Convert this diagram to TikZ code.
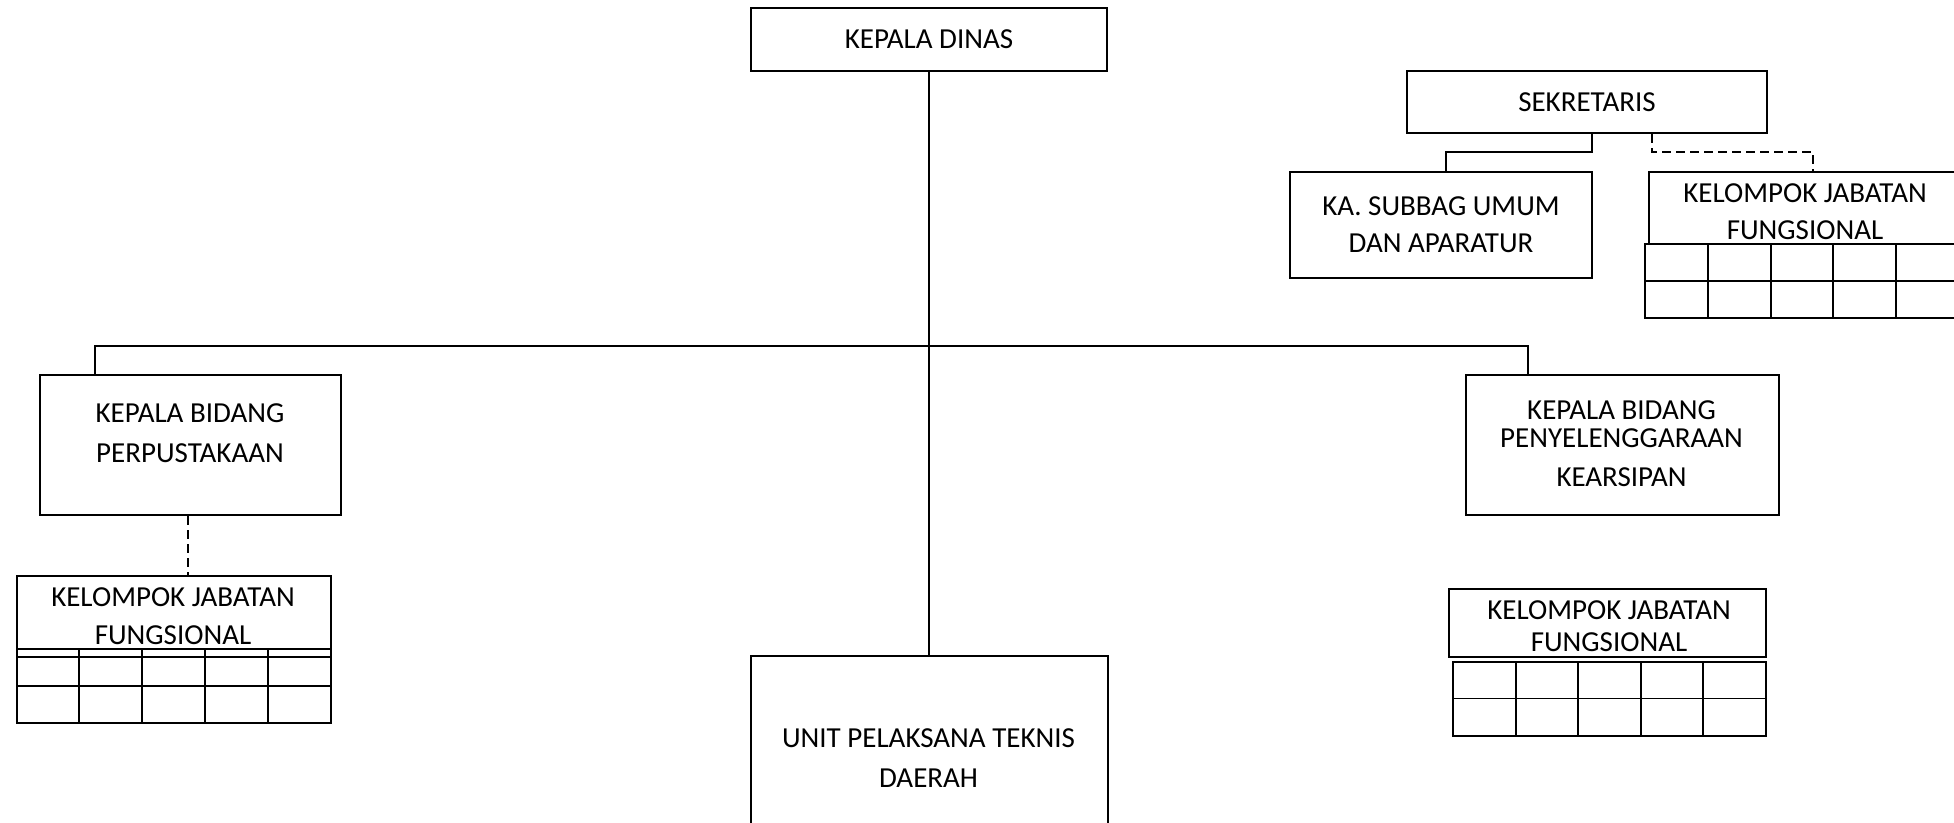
\documentclass[tikz,border=0pt]{standalone}
\usepackage{fontspec}
\setmainfont{Carlito}
\begin{document}
\begin{tikzpicture}[x=1pt,y=-1pt,
  thickbox/.style={draw,line width=2.6pt,inner sep=0pt,font=\fontsize{29}{39}\selectfont},
  thinbox/.style={draw,line width=1.5pt,inner sep=0pt},
  lbl/.style={inner sep=0pt,align=center,font=\fontsize{29}{39}\selectfont},
  conn/.style={line width=1.3pt},
  dconn/.style={line width=1.3pt,dash pattern=on 9pt off 5pt},
  tbl/.style={line width=1.4pt}]
\useasboundingbox (0,0) rectangle (1954,822);

% boxes
\node[thickbox,minimum width=356pt,minimum height=63pt] (kd) at (929,39.5) {KEPALA DINAS};
\node[thickbox,minimum width=360pt,minimum height=62pt] (sek) at (1587,102) {SEKRETARIS};
\node[thickbox,minimum width=302pt,minimum height=106pt] (sub) at (1441,225) {};
\node[thinbox,minimum width=317pt,minimum height=72pt] (kjfT) at (1807.5,208) {};
\node[thickbox,minimum width=301pt,minimum height=140pt] (kbp) at (190.5,445) {};
\node[thickbox,minimum width=313pt,minimum height=140pt] (kbpk) at (1622.5,445) {};
\node[thinbox,minimum width=314pt,minimum height=73pt] (kjfL) at (174,612.5) {};
\node[thinbox,minimum width=317pt,minimum height=68pt] (kjfR) at (1607.5,623) {};
\node[thickbox,minimum width=357pt,minimum height=214pt] (upt) at (929.5,763) {};

% texts
\node[lbl,font=\fontsize{29}{37.5}\selectfont] (subT) at (1441,224.5) {KA. SUBBAG UMUM\\DAN APARATUR};
\node[lbl,font=\fontsize{29}{37}\selectfont] (kjfTT) at (1805,211.5) {KELOMPOK JABATAN\\FUNGSIONAL};
\node[lbl,font=\fontsize{29}{40}\selectfont] (kbpT) at (190,433.5) {KEPALA BIDANG\\PERPUSTAKAAN};
\node[lbl] (kbpkT) at (1621.5,444) {KEPALA BIDANG\\[-11pt]PENYELENGGARAAN\\KEARSIPAN};
\node[lbl,font=\fontsize{29}{38.5}\selectfont] (kjfLT) at (173,616) {KELOMPOK JABATAN\\FUNGSIONAL};
\node[lbl,font=\fontsize{29}{31.5}\selectfont] (kjfRT) at (1609,626) {KELOMPOK JABATAN\\FUNGSIONAL};
\node[lbl,font=\fontsize{29}{39.5}\selectfont] (uptT) at (928.5,758) {UNIT PELAKSANA TEKNIS\\DAERAH};

% connectors
\coordinate (busL) at (95,346);
\coordinate (busR) at (1528,346);
\draw[conn] (kd.south) -- (kd.south |- upt.north);
\draw[conn] (busL |- kbp.north) -- (busL) -- (busR) -- (busR |- kbpk.north);
\coordinate (sj) at (1592,152);
\coordinate (sk) at (1446,152);
\draw[conn] (sek.south -| sj) -- (sj) -- (sk) -- (sk |- sub.north);
\coordinate (dj) at (1652,152);
\coordinate (dk) at (1813,152);
\draw[dconn] (sek.south -| dj) -- (dj) -- (dk) -- (dk |- kjfT.north);
\coordinate (dl) at (188,545);
\draw[dconn] (dl |- kbp.south) -- (dl |- kjfL.north);

% tables
\draw[tbl] (17,649) rectangle (331,723);
\draw[tbl] (17,657) -- (331,657) (17,686) -- (331,686);
\foreach \x in {79,142,205,268} \draw[tbl] (\x,649) -- (\x,723);

\draw[tbl] (1453,662) rectangle (1766,736);
\draw[tbl] (1453,698.5) -- (1766,698.5);
\foreach \x in {1516,1578,1641,1703} \draw[tbl] (\x,662) -- (\x,736);

\draw[tbl] (1645,244) rectangle (1958,318);
\draw[tbl] (1645,281) -- (1958,281);
\foreach \x in {1708,1771,1833,1896} \draw[tbl] (\x,244) -- (\x,318);
\end{tikzpicture}
\end{document}
